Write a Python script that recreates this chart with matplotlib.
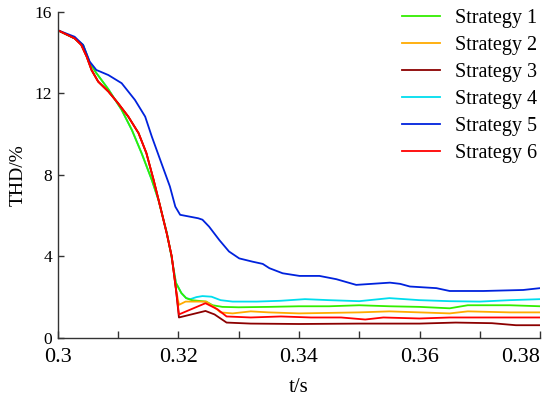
import matplotlib
matplotlib.use("Agg")
import matplotlib.pyplot as plt

plt.rcParams["font.family"] = ["Liberation Serif", "DejaVu Serif"]

# Data

# common falling part of strategies 2, 3 and 6
t_fall_a = [0.3000, 0.3028, 0.3039, 0.3048, 0.3056, 0.3067, 0.3084, 0.3100, 0.3117, 0.3134,
            0.3147, 0.3159, 0.3170, 0.3181, 0.3189, 0.3196]
v_fall_a = [15.1, 14.7, 14.38, 13.8, 13.15, 12.58, 12.09, 11.52, 10.86, 10.05,
            9.07, 7.75, 6.44, 5.1, 4.0, 2.4]

# common falling part of strategies 1 and 4
t_fall_b = [0.3000, 0.3028, 0.3042, 0.3053, 0.3064, 0.3084, 0.3106, 0.3123, 0.3139, 0.3156,
            0.3167, 0.3181, 0.3188, 0.3196, 0.3205, 0.3213]
v_fall_b = [15.1, 14.7, 14.38, 13.5, 13.0, 12.2, 11.19, 10.2, 9.07, 7.75,
            6.77, 5.14, 4.1, 2.7, 2.2, 1.95]

t_s1 = t_fall_b + [0.3222, 0.3246, 0.3257, 0.3273, 0.330, 0.335, 0.340, 0.345, 0.350, 0.355,
                   0.360, 0.365, 0.368, 0.375, 0.380]
v_s1 = v_fall_b + [1.85, 1.78, 1.6, 1.52, 1.5, 1.52, 1.55, 1.55, 1.6, 1.55,
                   1.52, 1.45, 1.6, 1.6, 1.55]

t_s2 = t_fall_a + [0.3201, 0.3212, 0.3246, 0.326, 0.327, 0.329, 0.332, 0.335, 0.340, 0.350,
                   0.355, 0.360, 0.365, 0.368, 0.375, 0.380]
v_s2 = v_fall_a + [1.62, 1.78, 1.78, 1.5, 1.25, 1.2, 1.3, 1.25, 1.2, 1.25,
                   1.3, 1.25, 1.2, 1.3, 1.25, 1.25]

t_s3 = t_fall_a + [0.3201, 0.3245, 0.326, 0.328, 0.332, 0.340, 0.350, 0.360, 0.366, 0.372,
                   0.376, 0.380]
v_s3 = v_fall_a + [1.0, 1.32, 1.15, 0.75, 0.7, 0.68, 0.7, 0.7, 0.75, 0.72,
                   0.62, 0.62]

t_s4 = t_fall_b + [0.322, 0.323, 0.324, 0.3255, 0.327, 0.329, 0.333, 0.337, 0.341, 0.345,
                   0.350, 0.355, 0.360, 0.365, 0.370, 0.375, 0.380]
v_s4 = v_fall_b + [1.9, 2.0, 2.05, 2.02, 1.85, 1.78, 1.78, 1.82, 1.9, 1.85,
                   1.8, 1.95, 1.85, 1.8, 1.78, 1.85, 1.9]

t_s5 = [0.3000, 0.3028, 0.3042, 0.3053, 0.3064, 0.3084, 0.3106, 0.3128, 0.3145, 0.3156,
        0.3172, 0.3186, 0.3195, 0.3203, 0.3233, 0.3240, 0.3251, 0.3268, 0.3284, 0.3301,
        0.3323, 0.3340, 0.3351, 0.3373, 0.3401, 0.3434, 0.3462, 0.3495, 0.3551, 0.3568,
        0.3584, 0.3628, 0.3650, 0.3706, 0.3772, 0.3800]
v_s5 = [15.1, 14.78, 14.38, 13.56, 13.15, 12.9, 12.5, 11.68, 10.86, 9.88,
        8.57, 7.43, 6.44, 6.04, 5.87, 5.8, 5.46, 4.8, 4.24, 3.9,
        3.74, 3.63, 3.42, 3.17, 3.04, 3.04, 2.88, 2.6, 2.71, 2.65,
        2.52, 2.44, 2.3, 2.3, 2.35, 2.44]

t_s6 = t_fall_a + [0.3201, 0.3245, 0.3265, 0.328, 0.332, 0.337, 0.342, 0.347, 0.351, 0.354,
                   0.360, 0.365, 0.370, 0.380]
v_s6 = v_fall_a + [1.15, 1.7, 1.4, 1.05, 1.0, 1.05, 1.0, 1.0, 0.9, 1.0,
                   0.95, 1.0, 1.0, 1.0]

labels = ["Strategy 1", "Strategy 2", "Strategy 3", "Strategy 4", "Strategy 5", "Strategy 6"]
colors = ["#33ee00", "#ffaa00", "#8b0000", "#00ddee", "#0022dd", "#ff0000"]

x_ticks = [0.30, 0.32, 0.34, 0.36, 0.38]
x_tick_labels = ["0.3", "0.32", "0.34", "0.36", "0.38"]
x_minor = [0.31, 0.33, 0.35, 0.37]
y_ticks = [0, 4, 8, 12, 16]

series = [(t_s1, v_s1), (t_s2, v_s2), (t_s3, v_s3), (t_s4, v_s4), (t_s5, v_s5), (t_s6, v_s6)]

fig = plt.figure(figsize=(5.5, 3.97), dpi=100)
ax = fig.add_axes([0.105, 0.149, 0.877, 0.821])

# red-family lines drawn last so they sit on top, as in the reference
order = [3, 0, 1, 4, 2, 5]
handles = {}
for i in order:
    t, v = series[i]
    (h,) = ax.plot(t, v, color=colors[i], linewidth=1.3, label=labels[i])
    handles[i] = h

ax.set_xlim(0.3, 0.38)
ax.set_ylim(0, 16)
ax.set_xticks(x_ticks)
ax.set_xticklabels(x_tick_labels)
ax.set_xticks(x_minor, minor=True)
ax.set_yticks(y_ticks)

ax.spines["top"].set_visible(False)
ax.spines["right"].set_visible(False)
for s in ("left", "bottom"):
    ax.spines[s].set_linewidth(1.0)
    ax.spines[s].set_color("#333333")

ax.tick_params(axis="both", which="both", direction="in", width=1.0, color="#333333")
ax.tick_params(axis="x", which="both", length=5, pad=7, labelsize=16)
ax.tick_params(axis="y", which="major", length=4, pad=4, labelsize=12.5)
ax.get_xticklabels()[-1].set_horizontalalignment("right")

ax.set_xlabel("t/s", fontsize=15, labelpad=8)
ax.set_ylabel("THD/%", fontsize=14, labelpad=6)

ax.legend([handles[i] for i in range(6)], labels, loc="upper right",
          bbox_to_anchor=(0.977, 0.978), bbox_transform=fig.transFigure,
          frameon=False, fontsize=14.5, borderpad=0, borderaxespad=0,
          handlelength=1.9, handletextpad=0.75, labelspacing=0.39)

fig.savefig("out.png", dpi=100)
